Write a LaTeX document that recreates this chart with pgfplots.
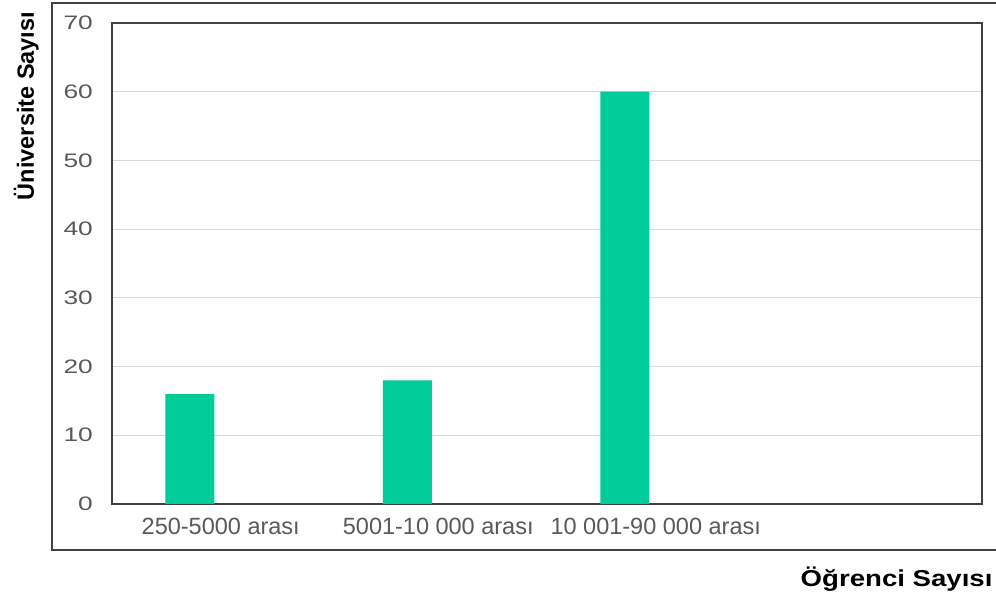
\documentclass[border=0pt]{standalone}
\usepackage{pgfplots}
\pgfplotsset{compat=1.18}
\usepackage{fontspec}
\setmainfont{Liberation Sans}
\newfontfamily\ytickfont[FakeStretch=1.35]{Liberation Sans}
\newfontfamily\xlabfont[FakeStretch=1.2]{Liberation Sans}
\definecolor{barcol}{HTML}{00CC99}
\definecolor{tickgray}{HTML}{595959}
\definecolor{gridgray}{HTML}{D9D9D9}
\definecolor{framegray}{HTML}{404040}
\begin{document}
\begin{tikzpicture}
\useasboundingbox (0pt,0pt) rectangle (996pt,599pt);
\draw[framegray, line width=1.5pt] (996pt,596pt) -- (52pt,596pt) -- (52pt,49pt) -- (996pt,49pt);
\begin{axis}[
  at={(112pt,95pt)}, anchor=south west,
  width=870pt, height=481pt, scale only axis,
  xmin=-0.5, xmax=3.5, ymin=0, ymax=70,
  xtick={0,1,2,3},
  xticklabels={250-5000 arası, 5001-10 000 arası, 10 001-90 000 arası, {}},
  ytick={0,10,...,70},
  major tick length=0pt,
  ymajorgrids, grid style={gridgray, line width=1pt},
  axis line style={framegray, line width=1.5pt},
  /pgf/number format/assume math mode=true,
  yticklabel style={font=\ytickfont\fontsize{19.5pt}{20pt}\selectfont, text=tickgray, anchor=east, inner sep=0pt, xshift=-19pt},
  xticklabel style={font=\fontsize{23.5pt}{24pt}\selectfont, text=tickgray, anchor=north, inner sep=0pt, yshift=-14pt},
]
\addplot[ybar, bar width=49pt, bar shift=-31pt, fill=barcol, draw=none] coordinates {(0,16) (1,18) (2,60)};
\end{axis}
\node[rotate=90, anchor=base, font=\fontsize{23.5pt}{24pt}\selectfont\bfseries] at (34pt,493pt) {Üniversite Sayısı};
\node[anchor=base east, font=\xlabfont\fontsize{23pt}{24pt}\selectfont\bfseries] at (996pt,12pt) {Öğrenci Sayısı};
\end{tikzpicture}
\end{document}
